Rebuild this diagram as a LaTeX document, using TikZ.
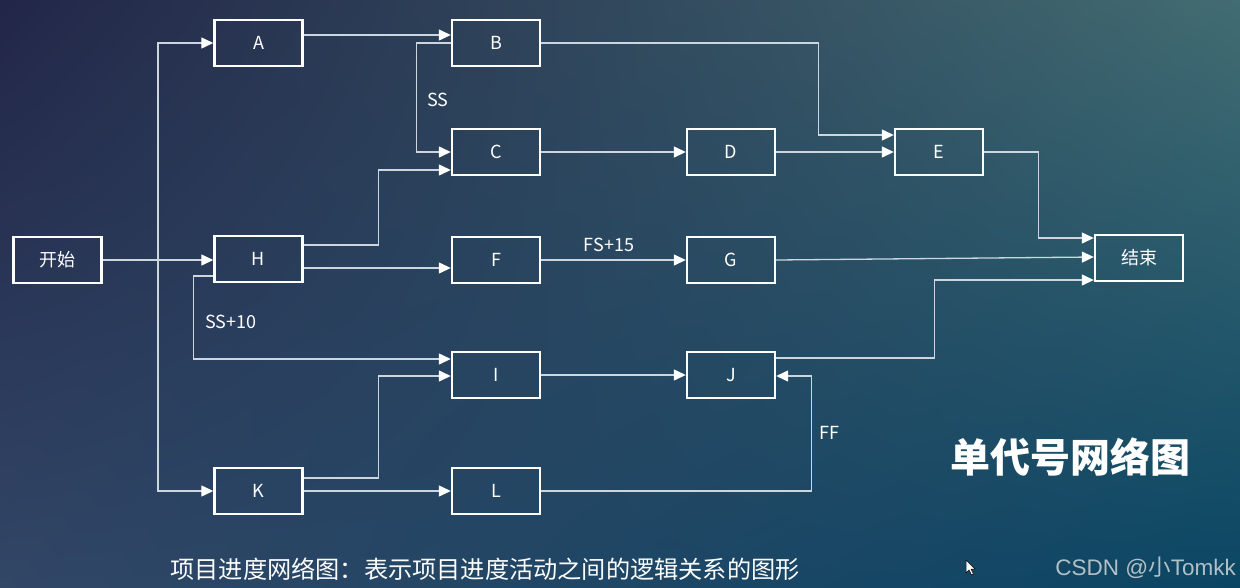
\documentclass[tikz,border=0pt]{standalone}
\usepackage{fontspec}
\setmainfont{Noto Sans CJK SC}
\newfontfamily\wmfont{Liberation Sans}
\usetikzlibrary{arrows.meta,calc,shadings}
\definecolor{bgUL}{RGB}{34,38,72}
\definecolor{bgUR}{RGB}{66,108,114}
\definecolor{bgLL}{RGB}{50,70,102}
\definecolor{bgLR}{RGB}{10,70,100}
\definecolor{linec}{RGB}{205,214,222}
\definecolor{wmc}{RGB}{178,192,200}
\tikzset{
  box/.style={draw=white, line width=2.4pt, minimum width=88pt, minimum height=46pt,
    inner sep=0pt, text=white, font=\fontsize{18}{20}\selectfont},
  conn/.style={draw=linec, line width=1.3pt,
    -{Triangle[length=12pt,width=11pt,color=white]}},
  lbl/.style={text=white, font=\fontsize{18}{20}\selectfont, inner sep=0pt}
}
\begin{document}
\begin{tikzpicture}[x=1pt,y=-1pt]
\useasboundingbox (0,0) rectangle (1240,587);
\shade[upper left=bgUL, upper right=bgUR, lower left=bgLL, lower right=bgLR] (0,0) rectangle (1240,587);

% nodes
\node[box] (start) at (57.5,260) {开始};
\node[box] (A) at (258.5,43) {A};
\node[box] (B) at (496,43) {B};
\node[box] (C) at (496,152) {C};
\node[box] (D) at (731,152) {D};
\node[box] (E) at (939,152) {E};
\node[box] (H) at (258.5,259) {H};
\node[box] (F) at (496,260) {F};
\node[box] (G) at (731,260) {G};
\node[box] (end) at (1139,258) {结束};
\node[box] (I) at (496,375) {I};
\node[box] (J) at (731,375) {J};
\node[box] (K) at (258.5,491) {K};
\node[box] (L) at (496,491) {L};

% connectors
\coordinate (s1) at (158,260);
\draw[conn] (start.east) -- (start.east -| H.west);
\draw[conn] (s1) |- (A.west);
\draw[conn] (s1) |- (K.west);
\draw[conn] ([yshift=8pt]A.east) -- ([yshift=8pt]B.west);
\draw[conn] (B.west) -- ++(-34,0) |- (C.west);
\draw[conn] ([yshift=14pt]H.east) -- ++(75,0) |- ([yshift=-18pt]C.west);
\draw[conn] ([yshift=-9pt]H.east) -- ([yshift=-9pt]H.east -| F.west);
\draw[conn] ([yshift=-17pt]H.west) -- ++(-20,0) |- ([yshift=16pt]I.west);
\draw[conn] ([yshift=13pt]K.east) -- ++(75,0) |- ([yshift=-1pt]I.west);
\draw[conn] (K.east) -- (L.west);
\draw[conn] (B.east) -- ++(277,0) |- ([yshift=17pt]E.west);
\draw[conn] (C.east) -- (D.west);
\draw[conn] (D.east) -- (E.west);
\draw[conn] (E.east) -- ++(54,0) |- ([yshift=20pt]end.west);
\draw[conn] (G.east) -- ([yshift=1pt]end.west);
\draw[conn] ([yshift=17pt]J.east) -- ++(158,0) |- ([yshift=-22pt]end.west);
\draw[conn] (F.east) -- (G.west);
\draw[conn] (I.east) -- (J.west);
\draw[conn] (L.east) -- ++(270,0) |- ([yshift=-1pt]J.east);

% labels
\node[lbl] (lss) at (438,100) {SS};
\node[lbl] (lss10) at (231,322) {SS+10};
\node[lbl] (lfs) at (609,245) {FS+15};
\node[lbl] (lff) at (829,433) {FF};

% title and caption
\node[text=white, font=\fontsize{40}{42}\selectfont\bfseries, inner sep=0pt] (title) at (1070,457) {单代号网络图};
\node[text=white!92!linec, font=\fontsize{24.2}{26}\selectfont, inner sep=0pt] (cap) at (485,569) {项目进度网络图：表示项目进度活动之间的逻辑关系的图形};
\node[text=wmc, font=\fontsize{22.5}{24}\selectfont, inner sep=0pt, anchor=east] (wm) at (1236,568) {{\wmfont CSDN @}小{\wmfont Tomkk}};

% mouse cursor
\filldraw[fill=white, draw=black, line width=0.5pt] (966,560) -- (966,573) -- (969,570) -- (971.5,575) -- (973.5,574) -- (971,569) -- (975,569) -- cycle;
\end{tikzpicture}
\end{document}
